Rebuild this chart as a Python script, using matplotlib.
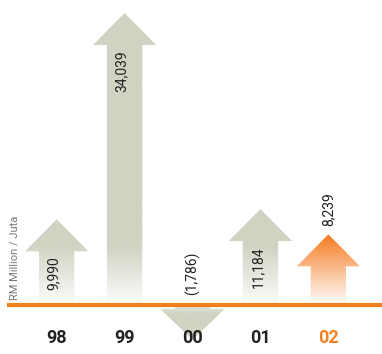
import numpy as np
import matplotlib
matplotlib.use("Agg")
import matplotlib.pyplot as plt
from matplotlib.patches import Polygon

# data
years = ["98", "99", "00", "01", "02"]
values = [9990, 34039, -1786, 11184, 8239]
value_labels = ["9,990", "34,039", "(1,786)", "11,184", "8,239"]
highlight = "02"

GRAY = np.array([208, 211, 194]) / 255.0
ORANGE = np.array([244, 123, 32]) / 255.0
LINE = "#f37f1f"

plt.rcParams['font.family'] = ['Roboto', 'DejaVu Sans']

fig = plt.figure(figsize=(3.82, 3.54), dpi=100)
ax = fig.add_axes([0, 0, 1, 1])
ax.set_xlim(-0.835, 4.79)
ax.set_ylim(-5712, 35554)
ax.axis("off")

px = 116.57          # data units per pixel (vertical)
head_len = 32 * px
head_hw = 0.465
shaft_hw = 0.26


def arrow(x, v, color):
    if v >= 0:
        base_top = v - head_len
        pts = [(x - shaft_hw, 0), (x - shaft_hw, base_top), (x - head_hw, base_top),
               (x, v), (x + head_hw, base_top), (x + shaft_hw, base_top), (x + shaft_hw, 0)]
        y0, y1 = 0, v
    else:
        shaft_end = v * 0.25
        tip = shaft_end - 31 * px
        pts = [(x - shaft_hw, 0), (x - shaft_hw, shaft_end), (x - head_hw - 0.01, shaft_end),
               (x, tip), (x + head_hw + 0.01, shaft_end), (x + shaft_hw, shaft_end), (x + shaft_hw, 0)]
        y0, y1 = tip, 0
    poly = Polygon(pts, closed=True, facecolor="none", edgecolor="none")
    ax.add_patch(poly)
    ys = np.linspace(y0, y1, 200)
    d = np.abs(ys) / px
    # fade to white toward the baseline
    if color is ORANGE:
        a = np.clip(d / (abs(v) / px), 0, 1)
    elif v >= 0:
        a = np.clip(d / min(abs(v) / px * 0.7, 60), 0, 1) ** 0.9
    else:
        a = np.clip(0.55 + d / 20, 0, 1)
    rgb = color[None, :] * a[:, None] + (1 - a[:, None])
    img = np.repeat(rgb[:, None, :], 2, axis=1)
    im = ax.imshow(img, extent=[x - head_hw - 0.02, x + head_hw + 0.02, y0, y1],
                   origin="lower", aspect="auto", zorder=1, interpolation="bilinear")
    im.set_clip_path(poly)


for i, (yr, v, lab) in enumerate(zip(years, values, value_labels)):
    col = ORANGE if yr == highlight else GRAY
    arrow(i, v, col)
    if yr == highlight:
        ax.text(i, v + 8 * px, lab, rotation=90, ha="center", va="bottom",
                fontsize=10, color="#222222", zorder=3)
    elif v < 0:
        ax.text(i, 10 * px, lab, rotation=90, ha="center", va="bottom",
                fontsize=10, color="#222222", zorder=3)
    else:
        ax.text(i - 0.04, v - head_len - 5 * px, lab, rotation=90, ha="center", va="top",
                fontsize=10, color="#222222", zorder=3)
    ax.text(i, -33 * px, yr, ha="center", va="center", fontsize=13, fontweight="bold",
            color="#f58220" if yr == highlight else "#222222", zorder=4)

ax.plot([-0.73, 4.79], [0, 0], color=LINE, linewidth=3, solid_capstyle="butt", zorder=2)

ax.text(-0.62, 4.5 * px, "RM Million / Juta", rotation=90, ha="center", va="bottom",
        fontsize=8, color="#777777", zorder=3)

fig.savefig("out.png", dpi=100)
